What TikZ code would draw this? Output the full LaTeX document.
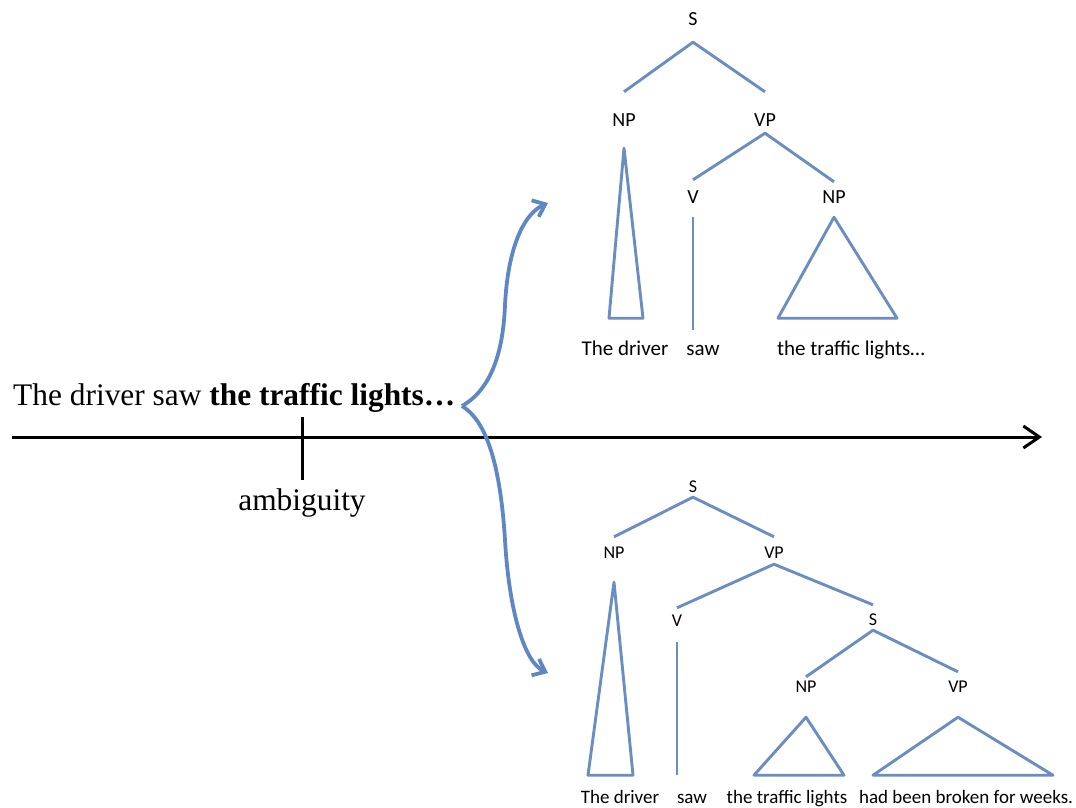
\documentclass[tikz,border=0pt]{standalone}
\usepackage{fontspec}
\setmainfont{Liberation Serif}
\newfontfamily\treefont{Carlito}
\usepackage{tikz}
\usetikzlibrary{arrows.meta}
\definecolor{treeblue}{HTML}{6A8DC2}
\definecolor{forkblue}{HTML}{5E87C4}

\begin{document}
\begin{tikzpicture}[
    x=1pt, y=-1pt,
    every node/.style={inner sep=0pt},
    cat/.style 2 args={anchor=base, text height=#1pt, text depth=#2pt},
    word/.style={anchor=base},
    branch/.style={draw=treeblue, line width=2.9pt, line join=round},
    fork/.style={draw=forkblue, line width=3.8pt, -{Straight Barb[length=11pt,width=18pt]}},
    big/.style={font=\fontsize{31.4}{37}\selectfont}
  ]
  \useasboundingbox (0,0) rectangle (1076,807);

  % sentence and timeline
  \node[big, anchor=base west] (sent) at (13,405) {The driver saw \textbf{the traffic lights…}};
  \node[big, anchor=base] (amb) at (302,510) {ambiguity};
  \coordinate (t0) at (12,437);
  \coordinate (t1) at (1042,437);
  \draw[line width=3pt, -{Straight Barb[length=16pt,width=22pt]}] (t0) -- (t1);
  \draw[line width=3pt] (amb.north |- t0) ++(0,-20) -- ++(0,63);

  % the two readings branch off here
  \coordinate (fk) at (462,406);
  \coordinate (up) at (548,203);
  \coordinate (dn) at (548,673);
  \draw[fork] (fk) .. controls (490,390) and (503,355) .. (505,305)
    .. controls (508,245) and (525,213) .. (up);
  \draw[fork] (fk) .. controls (485,420) and (500,460) .. (505,540)
    .. controls (509,610) and (524,662) .. (dn);

  % reading 1: NP object
  \begin{scope}[font=\treefont\fontsize{20}{24}\selectfont]
    \node[cat={13}{16.6}] (s1) at (693,25.4) {S};
    \node[cat={34.4}{21.6}] (np1) at (624,126.4) {NP};
    \node[cat={34.4}{6.6}] (vp1) at (765,126.4) {VP};
    \node[cat={23.4}{13.6}] (v1) at (693,203.4) {V};
    \node[cat={21.4}{13.6}] (np2) at (834,203.4) {NP};
  \end{scope}
  \begin{scope}[font=\treefont\fontsize{21}{25}\selectfont]
    \node[word] (w1) at (625,355) {The driver};
    \node[word] (w2) at (703,355) {saw};
    \node[word] (w3) at (851,355) {the traffic lights…};
  \end{scope}
  \draw[branch] (np1.north) -- (s1.south) -- (vp1.north);
  \draw[branch] (v1.north) -- (vp1.south) -- (np2.north);
  \draw[branch] (np1.south) -- ++(-15,170) -- ++(34,0) -- cycle;
  \draw[branch] (v1.south) -- ++(0,113);
  \draw[branch] (np2.south) -- ++(-56,101) -- ++(119,0) -- cycle;

  % reading 2: clause complement
  \begin{scope}[font=\treefont\fontsize{18}{22}\selectfont]
    \node[cat={12}{4.2}] (s2) at (693,492.8) {S};
    \node[cat={21.8}{23.2}] (np3) at (614,558.8) {NP};
    \node[cat={21.8}{5.2}] (vp3) at (774,558.8) {VP};
    \node[cat={18.8}{15.2}] (v3) at (677,626.8) {V};
    \node[cat={20.8}{4.2}] (s3) at (873,625.8) {S};
    \node[cat={15.8}{24.2}] (np4) at (806,692.8) {NP};
    \node[cat={20.8}{24.2}] (vp4) at (958,692.8) {VP};
  \end{scope}
  \begin{scope}[font=\treefont\fontsize{19}{23}\selectfont]
    \node[word] (w4) at (620,803) {The driver};
    \node[word] (w5) at (692,803) {saw};
    \node[word] (w6) at (787,803) {the traffic lights};
    \node[word] (w7) at (966,803) {had been broken for weeks.};
  \end{scope}
  \draw[branch] (np3.north) -- (s2.south) -- (vp3.north);
  \draw[branch] (v3.north) -- (vp3.south) -- (s3.north);
  \draw[branch] (np4.north) -- (s3.south) -- (vp4.north);
  \draw[branch] (np3.south) -- ++(-26,193) -- ++(45,0) -- cycle;
  \draw[branch] (v3.south) -- ++(0,133);
  \draw[branch] (np4.south) -- ++(-52,58) -- ++(90,0) -- cycle;
  \draw[branch] (vp4.south) -- ++(-85,58) -- ++(180,0) -- cycle;
\end{tikzpicture}
\end{document}
